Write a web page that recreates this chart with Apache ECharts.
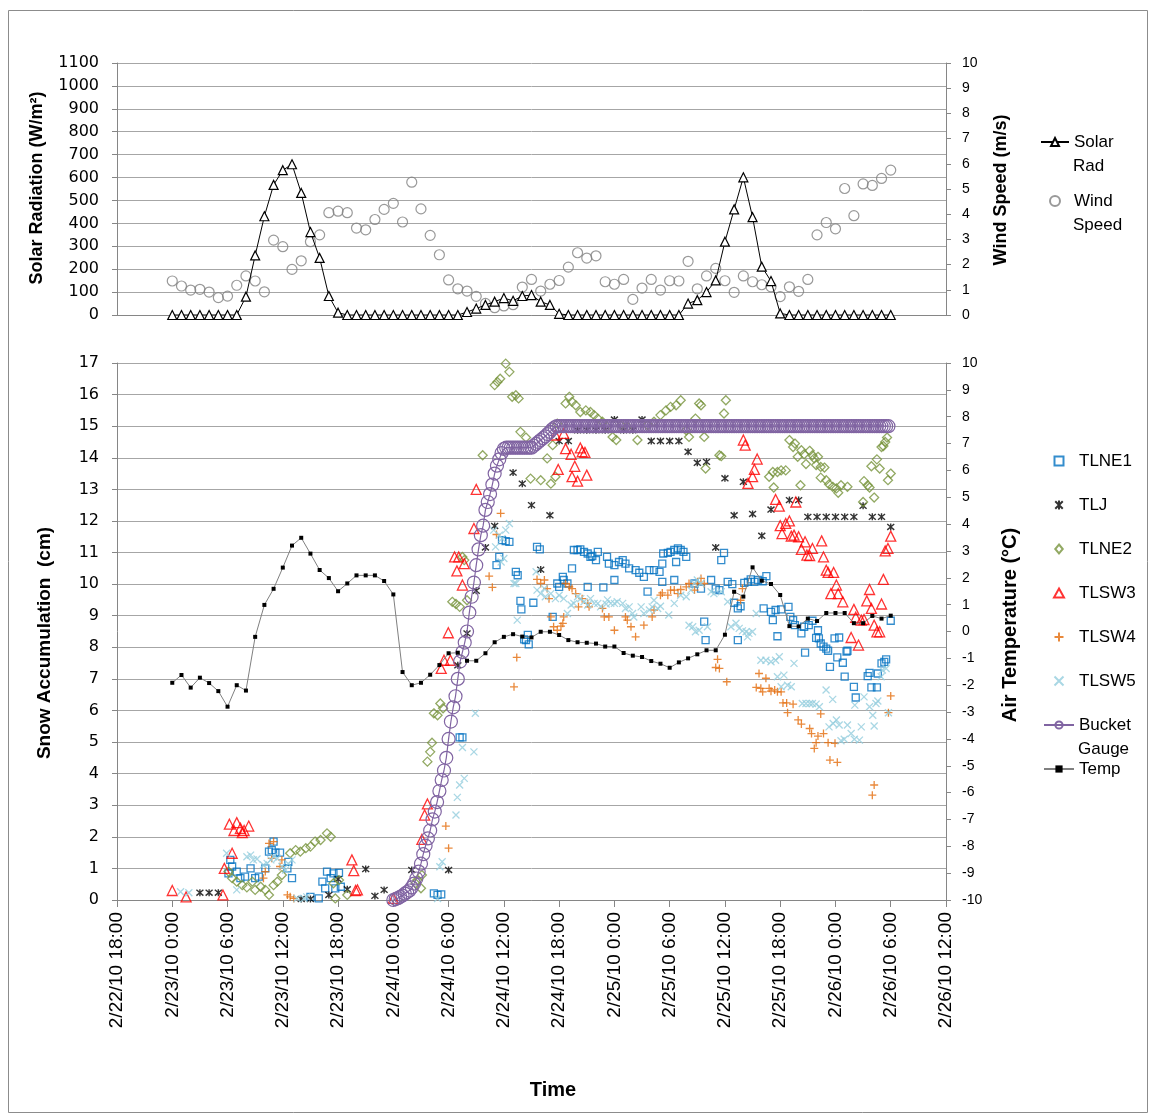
<!DOCTYPE html>
<html><head><meta charset="utf-8">
<script src="https://cdn.jsdelivr.net/npm/echarts@6/dist/echarts.min.js"></script>
<style>html,body{margin:0;padding:0;background:#fff}#c{width:1149px;height:1116px}</style>
</head><body><div id="c"></div>
<script>
// x values: hours after 2/23/10 0:00
// hourly series, starting 2/23/10 0:00
const solarRad = [0,0,0,0,0,0,0,0,80,260,431,568,632,658,533,362,249,83,10,
 0,0,0,0,0,0,0,0,0,0,0,0,0,13,28,44,58,74,62,83,87,58,44,5,
 0,0,0,0,0,0,0,0,0,0,0,0,0,50,65,100,151,320,461,601,427,211,148,7,
 0,0,0,0,0,0,0,0,0,0,0,0];
const windSpeed = [1.35,1.15,0.99,1.02,0.91,0.69,0.75,1.18,1.55,1.35,0.92,2.97,2.71,1.81,2.15,2.91,3.18,4.06,4.12,4.06,
 3.45,3.38,3.79,4.19,4.43,3.69,5.27,4.21,3.16,2.39,1.39,1.04,0.95,0.74,0.46,0.29,0.36,0.41,
 1.11,1.41,0.95,1.22,1.37,1.90,2.47,2.26,2.35,1.32,1.22,1.41,0.62,1.07,1.41,0.99,1.36,1.35,2.13,1.04,
 1.55,1.85,1.36,0.90,1.55,1.32,1.20,1.12,0.73,1.12,0.94,1.41,3.18,3.67,3.42,5.02,3.94,5.20,5.14,5.42,5.75];
const airTemp = [-1.91,-1.62,-2.09,-1.72,-1.92,-2.22,-2.80,-2.00,-2.20,-0.20,0.99,1.59,2.38,3.20,3.49,2.90,2.29,1.99,1.50,1.79,
 2.09,2.09,2.09,1.88,1.38,-1.51,-2.00,-1.91,-1.61,-1.25,-0.81,-0.79,-1.09,-1.09,-0.81,-0.40,-0.20,-0.10,-0.19,-0.22,
 -0.01,-0.01,-0.13,-0.32,-0.40,-0.42,-0.45,-0.56,-0.56,-0.80,-0.90,-0.95,-1.10,-1.20,-1.35,-1.15,-1.00,-0.85,-0.70,-0.70,
 -0.12,1.48,1.30,2.39,1.89,1.77,1.36,0.20,0.19,0.48,0.39,0.69,0.69,0.69,0.31,0.31,0.58,0.48,0.59];
// bucket gauge: every 15 minutes starting 2/24/10 0:00
const bucketStart = 24;
const bucketGauge = [0,0.03,0.06,0.1,0.14,0.2,0.25,0.3,0.4,0.52,0.68,0.9,1.15,1.45,1.72,1.95,2.2,2.55,2.8,3.1,
 3.45,3.8,4.1,4.5,5.1,5.65,6.1,6.45,7.0,7.55,7.85,8.15,8.5,9.1,9.6,10.05,10.6,11.1,11.55,11.85,
 12.35,12.6,12.85,13.15,13.5,13.75,13.95,14.15,14.28,14.32,14.32,14.32,14.32,14.32,14.32,14.32,14.32,14.32,
 14.32,14.32,14.32,14.38,14.44,14.5,14.56,14.62,14.68,14.75,14.82,14.9,14.96,15,
 15,15,15,15,15,15,15,15,15,15,15,15,15,15,15,15,15,15,15,15,
 15,15,15,15,15,15,15,15,15,15,15,15,15,15,15,15,15,15,15,15,
 15,15,15,15,15,15,15,15,15,15,15,15,15,15,15,15,15,15,15,15,
 15,15,15,15,15,15,15,15,15,15,15,15,15,15,15,15,15,15,15,15,
 15,15,15,15,15,15,15,15,15,15,15,15,15,15,15,15,15,15,15,15,
 15,15,15,15,15,15,15,15,15,15,15,15,15,15,15,15,15,15,15,15,
 15,15,15,15,15,15,15,15,15,15,15,15,15,15,15,15,15,15,15,15,
 15,15,15,15];
// scattered readings [hours after 2/23 0:00, cm]
const TLNE1 = [[6.3,1.27],[6.5,1.06],[6.1,0.84],[7.0,0.9],[7.4,0.69],[7.9,0.74],[8.5,1.0],[9.0,0.69],[9.4,0.74],[10.1,1.0],[10.5,1.53],[10.8,1.58],[11.2,1.5],[11.7,1.5],[11.0,1.85],[12.5,1.0],[13.0,0.69],[12.6,1.21],[15.0,0.1],[15.9,0.05],[16.8,0.9],[17.2,0.69],[17.5,0.84],[16.3,0.58],[16.6,0.37],[17.7,0.37],[18.3,0.42],[18.1,0.86],[28.4,0.21],[28.8,0.16],[29.2,0.18],[31.2,5.15],[31.5,5.15],[35.2,10.6],[35.5,10.86],[35.8,11.39],[36.2,11.36],[36.6,11.34],[37.3,10.39],[37.5,10.28],[37.8,9.47],[37.9,9.2],[39.2,9.41],[38.6,8.39],[38.4,8.23],[38.7,8.09],[38.2,8.25],[39.6,11.18],[39.9,11.1],[41.3,8.96],[41.8,10.02],[42.0,9.91],[42.4,10.23],[42.5,10.13],[42.9,10.02],[43.4,10.5],[43.6,11.08],[44.0,11.08],[44.3,11.1],[44.7,11.02],[45.1,10.97],[45.4,10.86],[46.0,10.76],[46.2,11.02],[45.6,10.89],[47.2,10.86],[47.4,10.65],[48.0,10.6],[48.5,10.7],[48.9,10.76],[49.2,10.65],[48.0,10.13],[46.8,9.9],[45.1,9.91],[49.6,10.5],[50.3,10.44],[50.7,10.36],[51.2,10.23],[51.8,10.44],[52.3,10.44],[52.9,10.39],[53.2,10.65],[53.3,10.97],[53.8,10.99],[54.1,11.02],[54.5,11.08],[54.9,11.13],[55.2,11.08],[55.5,11.02],[54.7,10.7],[53.2,10.07],[54.5,10.13],[51.6,9.76],[55.8,10.86],[56.7,10.02],[59.9,10.99],[59.6,10.76],[57.4,9.86],[58.5,10.13],[59.0,9.86],[59.4,9.81],[60.3,10.07],[60.8,10.0],[62.1,10.04],[62.5,10.07],[62.8,10.15],[63.2,10.07],[63.6,10.13],[64.1,10.09],[64.5,10.25],[61.0,9.41],[61.4,9.23],[61.7,9.3],[61.4,8.23],[57.9,8.23],[57.75,8.81],[64.2,9.23],[65.0,9.12],[65.2,8.86],[65.7,8.35],[65.5,9.18],[66.1,9.2],[66.9,9.28],[67.1,8.96],[67.4,8.86],[67.6,8.7],[68.3,8.44],[68.7,7.83],[69.1,8.7],[69.5,8.84],[68.6,8.65],[70.1,8.54],[70.2,8.28],[69.9,8.3],[70.4,8.12],[70.7,8.02],[71.0,7.96],[71.2,7.89],[71.4,7.38],[71.9,8.28],[72.4,8.31],[72.2,7.68],[72.8,7.51],[73.2,7.86],[73.0,7.07],[74.0,6.75],[74.2,6.41],[75.5,7.09],[75.9,6.73],[76.5,6.73],[75.7,7.19],[76.6,7.17],[77.0,7.49],[77.3,7.54],[77.5,7.62],[78.0,8.84],[73.3,7.89]];
const TLJ = [[3,0.23],[4,0.23],[5,0.23],[14,0.03],[15,0.03],[17,0.16],[18,0.66],[19,0.34],[21,0.98],[22,0.13],[23,0.32],[26,0.95],[30,0.95],[31,7.43],[32,8.44],[33,9.79],[34,11.16],[35,11.84],[37,13.53],[38,13.18],[39,12.5],[40,10.46],[41,12.18],[42,14.53],[43,14.53],[44,14.87],[45,14.87],[46,14.87],[47,14.87],[48,15.21],[49,14.87],[50,14.87],[51,15.21],[52,14.53],[53,14.53],[54,14.53],[55,14.53],[56,14.19],[57,13.84],[58,13.87],[59,11.16],[60,13.35],[61,12.18],[62,13.24],[63,12.22],[64,11.53],[65,12.36],[67,12.66],[68,12.66],[69,12.13],[70,12.13],[71,12.13],[72,12.13],[73,12.13],[74,12.13],[75,12.48],[76,12.13],[77,12.13],[78,11.81]];
const TLNE2 = [[6.1,0.9],[6.5,0.69],[7.0,0.58],[7.6,0.47],[8.1,0.4],[8.7,0.58],[9.0,0.32],[9.6,0.42],[10.1,0.32],[10.5,0.16],[11.0,0.47],[11.4,0.58],[11.9,0.79],[12.8,1.48],[13.4,1.58],[13.9,1.53],[14.5,1.64],[15.0,1.69],[15.5,1.85],[16.1,1.9],[16.8,2.11],[17.2,2.0],[17.5,0.53],[18.1,0.63],[17.7,0.05],[19.0,0.16],[27.0,0.37],[26.6,0.63],[27.1,0.79],[26.4,0.53],[27.7,4.38],[28.0,4.69],[28.2,4.98],[28.4,5.91],[28.8,5.85],[29.1,6.22],[29.4,6.07],[30.4,9.44],[30.8,9.37],[31.2,9.28],[32.0,9.49],[31.5,10.86],[31.7,10.76],[33.7,14.08],[35.0,16.3],[35.3,16.4],[35.6,16.5],[36.2,16.98],[36.6,16.72],[36.9,15.93],[37.3,15.98],[37.6,15.88],[37.8,14.82],[38.4,14.64],[38.9,13.34],[40.0,13.29],[41.1,13.18],[41.6,13.4],[40.7,13.98],[41.3,14.4],[41.8,15.08],[42.7,15.72],[43.1,15.93],[43.4,15.77],[43.8,15.66],[44.3,15.45],[44.9,15.5],[45.4,15.45],[45.8,15.35],[46.2,15.24],[46.7,15.14],[47.2,14.98],[47.8,14.66],[48.2,14.56],[48.7,15.03],[49.4,14.98],[50.5,14.56],[51.6,15.03],[52.3,15.14],[53.0,15.35],[53.6,15.5],[54.1,15.61],[54.7,15.66],[55.2,15.82],[55.8,14.87],[56.1,14.66],[56.8,15.24],[57.2,15.72],[57.75,14.66],[57.9,13.66],[59.4,14.08],[59.9,15.4],[60.1,15.82],[57.4,15.66],[59.6,14.05],[67.0,14.56],[67.6,14.45],[67.4,14.34],[68.3,14.24],[68.6,14.11],[69.2,14.22],[69.5,14.08],[69.7,13.98],[70.1,14.03],[70.4,13.71],[70.8,13.69],[67.9,14.03],[68.8,13.8],[69.9,13.77],[64.8,13.4],[65.2,13.55],[65.7,13.55],[66.1,13.6],[66.6,13.6],[65.3,13.06],[68.2,13.13],[70.4,13.37],[71.0,13.29],[71.3,13.16],[71.7,13.08],[72.1,13.03],[72.3,12.89],[72.6,13.13],[73.3,13.08],[75.1,13.26],[75.5,13.13],[75.7,13.06],[76.2,12.74],[75.0,12.6],[75.9,13.73],[76.5,13.95],[76.8,13.66],[77.2,14.37],[77.4,14.5],[77.0,14.34],[77.6,14.64],[77.7,13.29],[78.0,13.5]];
const TLSW3 = [[0,0.3],[1.5,0.1],[5.5,0.16],[5.65,1.0],[6.5,1.48],[6.2,2.4],[7.0,2.45],[6.7,2.2],[7.6,2.13],[7.8,2.2],[8.3,2.34],[7.4,2.27],[19.5,1.27],[19.7,0.93],[19.9,0.3],[20.1,0.32],[24.0,0.05],[27.1,1.92],[27.4,2.69],[27.7,3.04],[29.2,7.33],[29.5,7.59],[30.2,7.59],[29.97,8.46],[31.5,9.97],[30.9,10.42],[30.65,10.86],[31.1,10.86],[31.7,10.65],[32.75,11.76],[33.0,13.0],[41.6,14.72],[42.5,14.77],[42.7,14.29],[43.3,14.11],[41.9,13.63],[43.7,13.73],[43.4,13.4],[44.0,13.26],[45.0,13.45],[44.3,14.31],[44.5,14.19],[44.8,14.17],[62.0,14.56],[62.2,14.4],[63.5,13.96],[63.2,13.63],[63.0,13.4],[62.5,13.19],[65.5,12.68],[65.9,12.47],[67.7,12.6],[66.0,11.85],[66.6,11.92],[67.0,12.0],[66.2,11.6],[67.2,11.52],[67.5,11.55],[68.0,11.5],[68.3,11.1],[68.7,11.34],[68.9,10.92],[69.5,11.13],[69.2,10.9],[70.5,11.37],[70.7,10.86],[71.0,10.44],[71.2,10.37],[71.8,10.37],[72.1,9.97],[71.5,9.7],[72.3,9.7],[72.8,9.44],[74.0,9.2],[74.2,8.95],[74.8,8.86],[75.1,8.88],[73.7,8.31],[74.5,8.07],[75.7,9.83],[75.4,9.47],[75.9,9.23],[76.2,8.7],[76.5,8.49],[76.8,8.49],[77.0,9.37],[77.2,10.15],[77.4,11.05],[77.7,11.13],[78.0,11.52]];
const TLSW4 = [[10.5,1.79],[11.0,1.85],[10.8,1.32],[11.9,1.27],[11.7,1.06],[10.1,0.9],[9.9,0.69],[12.5,0.16],[12.8,0.1],[13.2,0.05],[29.7,2.34],[30.0,1.64],[34.4,10.25],[34.75,9.9],[35.2,11.57],[35.65,12.24],[37.1,6.75],[37.4,7.68],[39.6,10.15],[40.0,10.02],[40.4,10.13],[40.7,9.86],[40.9,9.54],[41.4,8.65],[41.8,8.54],[42.2,8.67],[42.5,8.96],[41.1,8.96],[42.4,8.76],[42.7,10.02],[43.1,9.91],[43.4,9.86],[43.8,9.7],[44.1,9.28],[44.5,9.54],[45.1,9.39],[45.25,9.28],[46.7,9.23],[46.9,8.96],[47.4,8.96],[48.0,8.54],[49.2,8.96],[49.4,8.86],[49.8,8.65],[50.3,8.33],[51.2,8.7],[52.1,8.96],[52.3,9.18],[53.0,9.65],[53.2,9.72],[53.8,9.65],[54.1,9.81],[54.5,9.81],[54.9,9.7],[55.2,9.83],[55.8,9.91],[56.1,10.02],[56.7,9.81],[57.0,10.02],[57.4,10.18],[57.75,10.02],[61.9,9.86],[61.7,9.49],[59.2,7.62],[59.0,7.36],[59.4,7.33],[60.2,6.91],[63.7,7.17],[64.45,7.02],[63.4,6.73],[63.9,6.7],[64.1,6.59],[64.8,6.7],[65.0,6.61],[65.4,6.65],[65.7,6.59],[66.1,6.59],[66.3,6.24],[66.7,6.24],[67.4,6.2],[66.8,5.93],[67.95,5.7],[68.3,5.57],[69.2,5.43],[69.4,5.27],[70.1,5.19],[70.7,5.27],[69.9,4.98],[69.7,4.8],[71.2,4.98],[71.95,4.96],[70.4,5.89],[71.4,4.43],[72.2,4.36],[76.2,3.64],[76.0,3.32],[78.0,6.46],[77.75,5.93]];
const TLSW5 = [[0.9,0.26],[1.8,0.23],[5.9,1.48],[7.0,0.32],[8.1,1.37],[8.5,1.42],[8.8,1.27],[9.2,1.3],[9.9,1.11],[10.3,1.16],[10.7,1.27],[11.0,1.37],[11.4,1.32],[11.9,1.06],[12.3,0.95],[12.6,1.15],[13.0,1.27],[13.55,0.05],[14.3,0.05],[14.6,0.1],[28.8,0.05],[29.05,1.05],[29.3,1.21],[30.8,2.69],[30.95,3.25],[31.2,3.64],[31.7,3.85],[31.5,4.83],[32.75,4.69],[32.9,5.91],[35.1,11.18],[35.5,11.55],[35.8,11.44],[36.2,11.71],[36.6,11.92],[34.9,11.71],[36.0,10.81],[35.7,10.7],[37.45,8.86],[37.1,10.02],[37.3,10.02],[39.5,10.39],[39.6,9.81],[40.0,9.7],[40.4,9.86],[40.5,9.6],[41.1,9.7],[41.6,9.54],[42.0,9.65],[42.5,9.54],[42.9,9.07],[43.3,9.34],[43.6,9.39],[44.0,9.6],[44.35,9.54],[44.7,9.44],[45.1,9.34],[45.4,9.54],[45.8,9.39],[46.2,9.39],[46.5,9.28],[47.1,9.37],[47.25,9.5],[47.6,9.39],[48.0,9.39],[48.3,9.44],[48.9,9.39],[49.2,9.23],[49.6,9.28],[49.97,9.07],[50.1,8.96],[50.9,9.28],[51.2,9.07],[51.8,9.18],[52.1,9.28],[52.3,9.49],[52.7,9.23],[53.0,9.3],[53.9,9.02],[54.5,9.39],[55.2,9.65],[55.8,9.6],[56.3,9.81],[56.7,10.02],[57.0,10.13],[57.4,10.02],[56.1,8.7],[56.5,8.65],[56.8,8.49],[57.2,8.54],[58.1,8.65],[58.5,9.76],[58.8,9.7],[59.6,9.76],[60.3,9.44],[60.65,8.65],[61.2,8.76],[61.55,8.6],[61.9,8.52],[62.3,8.49],[62.6,8.44],[62.99,8.49],[62.45,8.33],[63.4,9.07],[63.9,7.59],[64.45,7.59],[65.0,7.54],[65.5,7.59],[65.9,7.7],[66.4,7.12],[66.8,6.8],[67.2,6.75],[67.5,7.49],[65.7,7.07],[66.1,6.75],[68.4,6.22],[68.8,6.22],[69.2,6.22],[69.5,6.22],[69.9,6.2],[70.25,6.12],[70.98,6.65],[71.7,6.35],[71.3,5.48],[71.75,5.59],[72.1,5.7],[72.4,5.54],[73.3,5.54],[73.7,5.27],[72.95,5.09],[72.6,5.04],[74.05,5.09],[74.6,5.06],[74.8,5.48],[74.1,6.17],[75.1,6.43],[75.7,6.12],[76.05,5.85],[76.4,6.22],[76.6,6.3],[76.2,5.51],[76.96,7.07],[77.1,7.28],[77.5,7.33],[77.75,5.93]];

const F = "'Liberation Sans', Arial, sans-serif";
const FL = "'DejaVu Sans', Verdana, sans-serif";
const AX = '#868686';
const GRID = '#a6a6a6';

function fmt(v){
  const d = new Date(Date.UTC(2010,1,23) + v*3600000);
  return (d.getUTCMonth()+1)+'/'+d.getUTCDate()+'/10 '+d.getUTCHours()+':'+String(d.getUTCMinutes()).padStart(2,'0');
}
const hourly = arr => arr.map((v,i)=>[i,v]);
const bucketData = bucketGauge.map((v,i)=>[bucketStart + i*0.25, v]);

const ASTER = 'path://M0,0L10,10M10,0L0,10M5,-1L5,11';
const PLUS = 'path://M5,0L5,10M0,5L10,5';
const CROSS = 'path://M0,0L10,10M10,0L0,10';
const SQUARE = 'path://M0,0L10,0L10,10L0,10Z';
const DIAMOND = 'path://M5,0L10,6L5,12L0,6Z';
const TRI = 'path://M5,0L10,9L0,9Z';

function yAx(grid, pos, min, max, interval, font, size, margin, split){
  return {gridIndex:grid, type:'value', position:pos, min, max, interval,
    axisLine:{show:true, onZero:false, lineStyle:{color:AX, width:1}},
    axisTick:{show:true, inside:false, length:5, lineStyle:{color:AX}},
    axisLabel:{fontFamily:font, fontSize:size, color:'#000', margin, formatter:v=>String(v)},
    splitLine:{show:split, lineStyle:{color:GRID, width:1}}};
}
const legText = {fontFamily:F, fontSize:17, lineHeight:20, color:'#000'};

const chart = echarts.init(document.getElementById('c'), null, {renderer:'canvas'});
chart.setOption({
  animation:false,
  backgroundColor:'#fff',
  grid:[{left:117, top:63, width:829, height:252},{left:117, top:363, width:829, height:537}],
  xAxis:[
    {gridIndex:0, type:'value', min:-6, max:84, interval:6,
     axisLine:{show:true, onZero:false, lineStyle:{color:AX}}, axisTick:{show:false}, axisLabel:{show:false}, splitLine:{show:false}},
    {gridIndex:1, type:'value', min:-6, max:84, interval:6,
     axisLine:{show:true, onZero:false, lineStyle:{color:AX}}, axisTick:{show:true, length:7, lineStyle:{color:AX}},
     axisLabel:{rotate:90, margin:12, fontFamily:F, fontSize:19, color:'#000', formatter:fmt}, splitLine:{show:false}}
  ],
  yAxis:[
    yAx(0,'left',0,1100,100,FL,16,18,true),
    yAx(0,'right',0,10,1,F,14,16,false),
    yAx(1,'left',0,17,1,FL,16,18,true),
    yAx(1,'right',-10,10,1,F,14,16,false)
  ],
  legend:[
    {data:['Solar Rad','Wind Speed'], orient:'vertical', left:1040, top:132, padding:0, itemWidth:28, itemHeight:10, itemGap:39,
     formatter:n=>n.split(' ')[0], textStyle:legText},
    {data:[{name:'TLNE1',icon:SQUARE},{name:'TLJ',icon:ASTER},{name:'TLNE2',icon:DIAMOND},{name:'TLSW3',icon:TRI},
           {name:'TLSW4',icon:PLUS},{name:'TLSW5',icon:CROSS},'Bucket Gauge','Temp'],
     orient:'vertical', left:1043, top:451, padding:0, itemWidth:30, itemHeight:9, itemGap:24,
     formatter:n=>n.split(' ')[0], textStyle:legText}
  ],
  graphic:[
    {type:'rect', shape:{x:8.5, y:10.5, width:1139, height:1102}, style:{fill:'none', stroke:'#8c8c8c', lineWidth:1}, silent:true},
    {type:'text', x:37, y:188, rotation:Math.PI/2, style:{text:'Solar Radiation (W/m²)', font:'bold 18px '+F, fill:'#000', align:'center', verticalAlign:'middle'}},
    {type:'text', x:45, y:643, rotation:Math.PI/2, style:{text:'Snow Accumulation  (cm)', font:'bold 19px '+F, fill:'#000', align:'center', verticalAlign:'middle'}},
    {type:'text', x:1001, y:190, rotation:Math.PI/2, style:{text:'Wind Speed (m/s)', font:'bold 18px '+F, fill:'#000', align:'center', verticalAlign:'middle'}},
    {type:'text', x:1010, y:625, rotation:Math.PI/2, style:{text:'Air Temperature (°C)', font:'bold 20px '+F, fill:'#000', align:'center', verticalAlign:'middle'}},
    {type:'text', x:553, y:1090, style:{text:'Time', font:'bold 20px '+F, fill:'#000', align:'center', verticalAlign:'middle'}},
    {type:'text', x:1073, y:166, style:{text:'Rad', font:'17px '+F, fill:'#000', align:'left', verticalAlign:'middle'}},
    {type:'text', x:1073, y:225, style:{text:'Speed', font:'17px '+F, fill:'#000', align:'left', verticalAlign:'middle'}},
    {type:'text', x:1078, y:749, style:{text:'Gauge', font:'17px '+F, fill:'#000', align:'left', verticalAlign:'middle'}}
  ],
  series:[
    {name:'Solar Rad', type:'line', xAxisIndex:0, yAxisIndex:0, data:hourly(solarRad), symbol:'triangle', symbolSize:9,
     lineStyle:{color:'#000', width:1}, itemStyle:{color:'#fff', borderColor:'#000', borderWidth:1.2}, z:3},
    {name:'Wind Speed', type:'scatter', xAxisIndex:0, yAxisIndex:1, data:hourly(windSpeed), symbol:'circle', symbolSize:10,
     itemStyle:{color:'transparent', borderColor:'#808080', borderWidth:1.2}, z:2},
    {name:'TLNE1', type:'scatter', xAxisIndex:1, yAxisIndex:2, data:TLNE1, symbol:'rect', symbolSize:7,
     itemStyle:{color:'transparent', borderColor:'#0070C0', borderWidth:1.3}},
    {name:'TLJ', type:'scatter', xAxisIndex:1, yAxisIndex:2, data:TLJ, symbol:ASTER, symbolSize:7,
     itemStyle:{color:'transparent', borderColor:'#000', borderWidth:1.4}},
    {name:'TLNE2', type:'scatter', xAxisIndex:1, yAxisIndex:2, data:TLNE2, symbol:'diamond', symbolSize:9,
     itemStyle:{color:'transparent', borderColor:'#77933C', borderWidth:1.3}},
    {name:'TLSW3', type:'scatter', xAxisIndex:1, yAxisIndex:2, data:TLSW3, symbol:'triangle', symbolSize:10,
     itemStyle:{color:'transparent', borderColor:'#FF0000', borderWidth:1.3}},
    {name:'TLSW4', type:'scatter', xAxisIndex:1, yAxisIndex:2, data:TLSW4, symbol:PLUS, symbolSize:8,
     itemStyle:{color:'transparent', borderColor:'#E46C0A', borderWidth:1.3}},
    {name:'TLSW5', type:'scatter', xAxisIndex:1, yAxisIndex:2, data:TLSW5, symbol:CROSS, symbolSize:7,
     itemStyle:{color:'transparent', borderColor:'#93CDDD', borderWidth:1.3}},
    {name:'Bucket Gauge', type:'line', xAxisIndex:1, yAxisIndex:2, data:bucketData, symbol:'circle', symbolSize:13,
     lineStyle:{color:'#8064A2', width:1.2}, itemStyle:{color:'transparent', borderColor:'#8064A2', borderWidth:1.2}},
    {name:'Temp', type:'line', xAxisIndex:1, yAxisIndex:3, data:hourly(airTemp), symbol:'rect', symbolSize:4,
     lineStyle:{color:'#808080', width:1}, itemStyle:{color:'#000', borderColor:'#000', borderWidth:0}}
  ]
});
</script></body></html>
